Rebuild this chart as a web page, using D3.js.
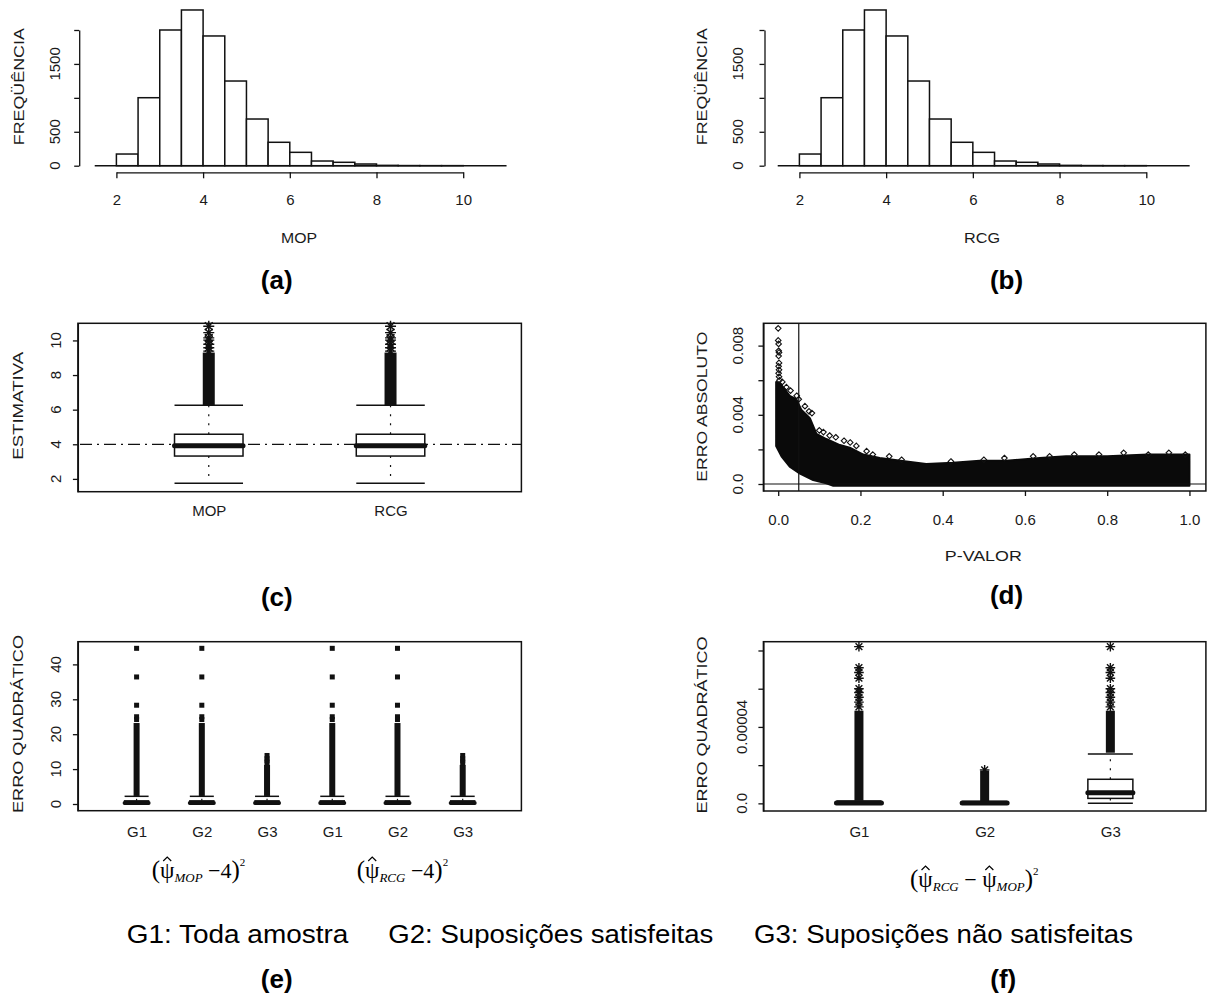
<!DOCTYPE html>
<html>
<head>
<meta charset="utf-8">
<script src="https://cdn.jsdelivr.net/npm/d3@7"></script>
<style>
body { margin: 0; background: #fff; }
svg { display: block; font-family: "Liberation Sans", Arial, sans-serif; }
.lab { font-size: 15px; fill: #1a1a1a; }
.cap { font-size: 26px; font-weight: bold; fill: #000; }
.leg { font-size: 25px; fill: #000; }
.frm { font-family: "Liberation Serif", "Times New Roman", serif; fill: #000; }
</style>
</head>
<body>
<script>
var w = 1207;
var h = 994;

// (a) and (b): histogram breaks and counts
var histBreaks = [1.5, 2, 2.5, 3, 3.5, 4, 4.5, 5, 5.5, 6, 6.5, 7, 7.5, 8, 8.5, 9, 9.5, 10, 10.5, 11];
var mopCounts = [0, 172, 1002, 2000, 2295, 1912, 1248, 688, 345, 197, 69, 50, 25, 5, 2, 1, 1, 0, 0];
var rcgCounts = [0, 172, 1002, 2000, 2295, 1912, 1248, 688, 345, 197, 69, 50, 25, 5, 2, 1, 1, 0, 0];
var histTicksX = [2, 4, 6, 8, 10];
var histTicksY = [0, 500, 1000, 1500, 2000];
var histLabelsY = [0, 500, 1500]; // R drops the labels that would collide

// (c): boxplots of the estimates
var estNames = ["MOP", "RCG"];
var estQ1 = [3.32, 3.32];
var estMedian = [3.92, 3.92];
var estQ3 = [4.58, 4.58];
var estLow = [1.75, 1.75];
var estHigh = [6.25, 6.25];
var estDense = [[6.25, 9.3], [6.25, 9.3]];
var estOutliers = [[9.38, 9.58, 9.78, 10.02, 10.15, 10.45, 10.82], [9.38, 9.58, 9.78, 10.02, 10.15, 10.45, 10.82]];
var estTicks = [2, 4, 6, 8, 10];
var trueValue = 4;

// (d): absolute error vs p-value, cloud outline and single points
var pUpper = [[-0.005, 0.0059], [0.005, 0.0058], [0.012, 0.0056], [0.028, 0.0051], [0.044, 0.0049],
              [0.056, 0.0043], [0.077, 0.0038], [0.093, 0.0029], [0.117, 0.0026], [0.15, 0.00225],
              [0.174, 0.0021], [0.207, 0.0017], [0.247, 0.0015], [0.312, 0.0013], [0.36, 0.00116],
              [0.425, 0.00123], [0.49, 0.00135], [0.555, 0.00135], [0.636, 0.0015], [0.7, 0.0016],
              [0.8, 0.0016], [0.9, 0.0017], [1.0, 0.0017]];
var pLower = [[-0.005, 0.0022], [0.008, 0.0016], [0.028, 0.0010], [0.053, 0.0006], [0.085, 0.00023],
              [0.117, 0.00004], [0.134, -0.0001], [1.0, -0.0001]];
var pPoints = [[0.0, 0.0090], [0.0, 0.0083], [0.001, 0.0081], [0.001, 0.0077], [0.002, 0.0076],
               [0.001, 0.0074], [0.002, 0.0070], [0.001, 0.0068], [0.002, 0.0066], [0.001, 0.0064],
               [0.002, 0.0062], [0.003, 0.0060], [0.01, 0.0059], [0.02, 0.0056], [0.03, 0.0054],
               [0.045, 0.0051], [0.05, 0.0049], [0.065, 0.0045], [0.075, 0.0042], [0.082, 0.0041],
               [0.1, 0.0031], [0.11, 0.0030], [0.125, 0.0028], [0.14, 0.0027], [0.16, 0.0025],
               [0.175, 0.0024], [0.19, 0.0022], [0.215, 0.0019], [0.23, 0.0017], [0.27, 0.0016],
               [0.3, 0.0014], [0.42, 0.0013], [0.5, 0.0014], [0.55, 0.0015], [0.62, 0.0016],
               [0.66, 0.0016], [0.72, 0.0017], [0.78, 0.0017], [0.84, 0.0018], [0.9, 0.0017],
               [0.95, 0.0018], [0.99, 0.0017]];
var pTicksX = [0, 0.2, 0.4, 0.6, 0.8, 1.0];
var pTicksY = [0, 0.002, 0.004, 0.006, 0.008];
var pLabelsY = [0, 0.004, 0.008];
var alpha = 0.05;

// (e): squared error of each estimator by group
var eqGroups = ["G1", "G2", "G3", "G1", "G2", "G3"];
var eqQ1 = [0.05, 0.05, 0.05, 0.05, 0.05, 0.05];
var eqMedian = [0.3, 0.3, 0.3, 0.3, 0.3, 0.3];
var eqQ3 = [0.9, 0.9, 0.9, 0.9, 0.9, 0.9];
var eqLow = [0, 0, 0, 0, 0, 0];
var eqHigh = [2.2, 2.2, 2.2, 2.2, 2.2, 2.2];
var eqDense = [[2.3, 23.2], [2.3, 23.2], [2.3, 11.2], [2.3, 23.2], [2.3, 23.2], [2.3, 11.2]];
var eqOutliers = [[24.2, 25, 28.3, 36.4, 44.6], [24.2, 25, 28.3, 36.4, 44.6], [11.8, 12.4, 13.0, 13.9],
                  [24.2, 25, 28.3, 36.4, 44.6], [24.2, 25, 28.3, 36.4, 44.6], [11.8, 12.4, 13.0, 13.9]];
var eqTicks = [0, 10, 20, 30, 40];

// (f): squared difference between the estimators by group
var dfGroups = ["G1", "G2", "G3"];
var dfQ1 = [0, 0, 2.6e-6];
var dfMedian = [2e-7, 2e-7, 5.5e-6];
var dfQ3 = [5e-7, 5e-7, 1.26e-5];
var dfLow = [0, 0, 0];
var dfHigh = [1.2e-6, 1.0e-6, 2.58e-5];
var dfDense = [[1.4e-6, 4.85e-5], [1.2e-6, 1.72e-5], [2.65e-5, 4.85e-5]];
var dfOutliers = [[5.05e-5, 5.3e-5, 5.55e-5, 5.8e-5, 6.0e-5, 6.55e-5, 6.85e-5, 7.1e-5, 8.2e-5],
                  [1.75e-5],
                  [5.05e-5, 5.3e-5, 5.55e-5, 5.8e-5, 6.0e-5, 6.55e-5, 6.85e-5, 7.1e-5, 8.2e-5]];
var dfTicks = [0, 2e-5, 4e-5, 6e-5, 8e-5];
var dfLabels = [0, 4e-5];

var ink = "#111";

var svg = d3.select("body")
            .append("svg")
            .attr("width", w)
            .attr("height", h);

// ---------- helpers ----------

// R's pch 8: a plus and a cross on top of each other
function asterisk(r) {
    var a = r * 0.7071;
    return "M" + (-r) + ",0H" + r + "M0," + (-r) + "V" + r +
           "M" + (-a) + "," + (-a) + "L" + a + "," + a +
           "M" + (-a) + "," + a + "L" + a + "," + (-a);
}

function styleAxis(g) {
    g.attr("font-family", null).attr("font-size", null);
    g.selectAll("path, line").attr("stroke", ink).attr("stroke-width", 1.3);
    g.selectAll("text").attr("class", "lab").attr("fill", null);
}

// left axis with ticks only, labels rotated like R does
function leftAxis(x0, y, ticks, labelX, labels, fmt) {
    svg.append("g")
       .attr("transform", "translate(" + x0 + ",0)")
       .call(d3.axisLeft(y).tickValues(ticks).tickSize(5).tickSizeOuter(0).tickFormat(""))
       .call(styleAxis);
    svg.selectAll(null)
       .data(labels)
       .enter()
       .append("text")
       .attr("class", "lab")
       .attr("transform", function (d) {
           return "translate(" + labelX + "," + y(d) + ") rotate(-90)";
       })
       .attr("text-anchor", "middle")
       .attr("dy", "0.35em")
       .text(fmt);
}

function yTitle(x, y, len, txt) {
    svg.append("text")
       .attr("class", "lab")
       .attr("transform", "translate(" + x + "," + y + ") rotate(-90)")
       .attr("text-anchor", "middle")
       .attr("dy", "0.35em")
       .attr("textLength", len)
       .attr("lengthAdjust", "spacingAndGlyphs")
       .text(txt);
}

function xTitle(x, y, len, txt) {
    svg.append("text")
       .attr("class", "lab")
       .attr("x", x)
       .attr("y", y)
       .attr("text-anchor", "middle")
       .attr("dy", "0.35em")
       .attr("textLength", len)
       .attr("lengthAdjust", "spacingAndGlyphs")
       .text(txt);
}

function caption(x, y, txt) {
    svg.append("text")
       .attr("class", "cap")
       .attr("x", x)
       .attr("y", y)
       .attr("text-anchor", "middle")
       .attr("dy", "0.35em")
       .text(txt);
}

function frame(x0, x1, y0, y1) {
    svg.append("rect")
       .attr("x", x0).attr("y", y0)
       .attr("width", x1 - x0).attr("height", y1 - y0)
       .attr("fill", "none")
       .attr("stroke", ink)
       .attr("stroke-width", 1.5);
}

function histogram(x, y, counts) {
    var g = svg.append("g");
    // zero line across all breaks (empty bins draw flat)
    g.append("line")
     .attr("x1", x(histBreaks[0]))
     .attr("x2", x(histBreaks[histBreaks.length - 1]))
     .attr("y1", y(0)).attr("y2", y(0))
     .attr("stroke", ink).attr("stroke-width", 1.5);
    counts.forEach(function (c, i) {
        if (c <= 0) return;
        g.append("rect")
         .attr("x", x(histBreaks[i]))
         .attr("y", y(c))
         .attr("width", x(histBreaks[i + 1]) - x(histBreaks[i]))
         .attr("height", y(0) - y(c))
         .attr("fill", "#fff")
         .attr("stroke", ink)
         .attr("stroke-width", 1.5);
    });
}

// R-style boxplot pieces; xpos(i) gives the centre of group i
function boxes(n, xpos, y, q1, med, q3, lo, hi, boxW, medW) {
    var g = svg.append("g");
    var idx = d3.range(n);
    // dashed whiskers
    g.selectAll(".wu").data(idx).enter().append("line")
     .attr("x1", xpos).attr("x2", xpos)
     .attr("y1", function (i) { return y(q3[i]); })
     .attr("y2", function (i) { return y(hi[i]); })
     .attr("stroke", ink).attr("stroke-width", 1.2).attr("stroke-dasharray", "2,7");
    g.selectAll(".wl").data(idx).enter().append("line")
     .attr("x1", xpos).attr("x2", xpos)
     .attr("y1", function (i) { return y(q1[i]); })
     .attr("y2", function (i) { return y(lo[i]); })
     .attr("stroke", ink).attr("stroke-width", 1.2).attr("stroke-dasharray", "2,7");
    // staples
    [hi, lo].forEach(function (arr) {
        g.selectAll(null).data(idx).enter().append("line")
         .attr("x1", function (i) { return xpos(i) - boxW / 2; })
         .attr("x2", function (i) { return xpos(i) + boxW / 2; })
         .attr("y1", function (i) { return y(arr[i]); })
         .attr("y2", function (i) { return y(arr[i]); })
         .attr("stroke", ink).attr("stroke-width", 1.5);
    });
    // box
    g.selectAll(".bx").data(idx).enter().append("rect")
     .attr("x", function (i) { return xpos(i) - boxW / 2; })
     .attr("y", function (i) { return y(q3[i]); })
     .attr("width", boxW)
     .attr("height", function (i) { return Math.max(0.5, y(q1[i]) - y(q3[i])); })
     .attr("fill", "#fff").attr("stroke", ink).attr("stroke-width", 1.5);
    // median
    g.selectAll(".md").data(idx).enter().append("line")
     .attr("x1", function (i) { return xpos(i) - boxW / 2; })
     .attr("x2", function (i) { return xpos(i) + boxW / 2; })
     .attr("y1", function (i) { return y(med[i]); })
     .attr("y2", function (i) { return y(med[i]); })
     .attr("stroke", ink).attr("stroke-width", medW).attr("stroke-linecap", "round");
    return g;
}

// dense runs of outliers drawn as a solid column
function denseColumns(n, xpos, y, dense, colW) {
    svg.append("g").selectAll("rect")
       .data(d3.range(n))
       .enter()
       .append("rect")
       .attr("x", function (i) { return xpos(i) - colW / 2; })
       .attr("y", function (i) { return y(dense[i][1]); })
       .attr("width", colW)
       .attr("height", function (i) { return y(dense[i][0]) - y(dense[i][1]); })
       .attr("fill", ink);
}

function starPoints(n, xpos, y, outl, r) {
    var pts = [];
    d3.range(n).forEach(function (i) {
        outl[i].forEach(function (v) { pts.push([i, v]); });
    });
    svg.append("g").selectAll("path")
       .data(pts)
       .enter()
       .append("path")
       .attr("transform", function (d) { return "translate(" + xpos(d[0]) + "," + y(d[1]) + ")"; })
       .attr("d", asterisk(r))
       .attr("fill", "none")
       .attr("stroke", ink)
       .attr("stroke-width", 1.4);
}

// ---------- (a) and (b) histograms ----------

var yHist = d3.scaleLinear().domain([0, 2000]).range([165.7, 30]);
var xA = d3.scaleLinear().domain([2, 10]).range([116.4, 463.2]);
var xB = d3.scaleLinear().domain([2, 10]).range([799.4, 1146.3]);

histogram(xA, yHist, mopCounts);
histogram(xB, yHist, rcgCounts);

[[xA, 79.2, 55, 19, 299, "MOP"], [xB, 764.5, 737.4, 701.4, 982, "RCG"]].forEach(function (p) {
    var xs = p[0];
    svg.append("g")
       .attr("transform", "translate(0,172.3)")
       .call(d3.axisBottom(xs).tickValues(histTicksX).tickSize(6).tickSizeOuter(0).tickFormat(d3.format("d")))
       .call(styleAxis)
       .selectAll("text")
       .attr("y", 27.7)
       .attr("dy", "0.35em");
    leftAxis(p[1], yHist, histTicksY, p[2], histLabelsY, d3.format("d"));
    yTitle(p[3], 86.7, 117, "FREQÜÊNCIA");
    xTitle(p[4], 237.3, 36, p[5]);
});
caption(276.7, 280, "(a)");
caption(1006.5, 280, "(b)");

// ---------- (c) boxplots of the estimates ----------

var xC = d3.scalePoint().domain(estNames).range([77.9, 521.4]).padding(0.72);
var yC = d3.scaleLinear().domain([1.26, 10.99]).range([491.7, 323.3]);
var xCi = function (i) { return xC(estNames[i]); };

// reference line at the true value
svg.append("line")
   .attr("x1", 80).attr("x2", 521.4)
   .attr("y1", yC(trueValue)).attr("y2", yC(trueValue))
   .attr("stroke", ink).attr("stroke-width", 1.3)
   .attr("stroke-dasharray", "12,5,2,5");

boxes(2, xCi, yC, estQ1, estMedian, estQ3, estLow, estHigh, 68.5, 5);
denseColumns(2, xCi, yC, estDense, 12);
starPoints(2, xCi, yC, estOutliers, 5.5);

frame(77.9, 521.4, 323.3, 491.7);
leftAxis(77.9, yC, estTicks, 55.4, estTicks, d3.format("d"));
svg.append("g")
   .attr("transform", "translate(0,491.7)")
   .call(d3.axisBottom(xC).tickSize(0))
   .call(styleAxis)
   .call(function (g) { g.select(".domain").remove(); })
   .selectAll("text")
   .attr("y", 19)
   .attr("dy", "0.35em");
yTitle(17.9, 405.8, 108, "ESTIMATIVA");
caption(276.8, 597, "(c)");

// ---------- (d) absolute error vs p-value ----------

var xD = d3.scaleLinear().domain([-0.036, 1.04]).range([763.4, 1205.9]);
var yD = d3.scaleLinear().domain([-0.000405, 0.00929]).range([491, 323.3]);

var ring = pUpper.concat(pLower.slice().reverse());
svg.append("path")
   .attr("d", d3.line().x(function (d) { return xD(d[0]); }).y(function (d) { return yD(d[1]); })(ring) + "Z")
   .attr("fill", "#0a0a0a")
   .attr("stroke", "#0a0a0a")
   .attr("stroke-width", 2)
   .attr("stroke-linejoin", "round");

svg.append("g").selectAll("path")
   .data(pPoints)
   .enter()
   .append("path")
   .attr("transform", function (d) { return "translate(" + xD(d[0]) + "," + yD(d[1]) + ")"; })
   .attr("d", "M0,-2.8L2.8,0L0,2.8L-2.8,0Z")
   .attr("fill", "none")
   .attr("stroke", ink)
   .attr("stroke-width", 1.1);

// h = 0 and v = 0.05 reference lines
svg.append("line")
   .attr("x1", 763.4).attr("x2", 1205.9)
   .attr("y1", yD(0)).attr("y2", yD(0))
   .attr("stroke", ink).attr("stroke-width", 1.2);
svg.append("line")
   .attr("x1", xD(alpha)).attr("x2", xD(alpha))
   .attr("y1", 323.3).attr("y2", 491)
   .attr("stroke", ink).attr("stroke-width", 1.2);

frame(763.4, 1205.9, 323.3, 491);
svg.append("g")
   .attr("transform", "translate(0,491)")
   .call(d3.axisBottom(xD).tickValues(pTicksX).tickSize(5).tickSizeOuter(0).tickFormat(d3.format(".1f")))
   .call(styleAxis)
   .call(function (g) { g.select(".domain").remove(); })
   .selectAll("text")
   .attr("y", 29)
   .attr("dy", "0.35em");
leftAxis(763.4, yD, pTicksY, 737.6, pLabelsY, function (d) { return d === 0 ? "0.0" : d3.format(".3f")(d); });
yTitle(701.4, 406.7, 150, "ERRO ABSOLUTO");
xTitle(983.3, 556, 77, "P-VALOR");
caption(1006.5, 595, "(d)");

// ---------- (e) squared errors ----------

var xE = d3.scalePoint().domain(d3.range(6)).range([77.9, 521.4]).padding(0.9);
var yE = d3.scaleLinear().domain([-1.92, 46.5]).range([810.7, 641.7]);

boxes(6, xE, yE, eqQ1, eqMedian, eqQ3, eqLow, eqHigh, 24, 4);
denseColumns(6, xE, yE, eqDense, 6);
(function () {
    var pts = [];
    eqOutliers.forEach(function (arr, i) {
        arr.forEach(function (v) { pts.push([i, v]); });
    });
    svg.append("g").selectAll("rect")
       .data(pts)
       .enter()
       .append("rect")
       .attr("x", function (d) { return xE(d[0]) - 2.5; })
       .attr("y", function (d) { return yE(d[1]) - 2.5; })
       .attr("width", 5)
       .attr("height", 5)
       .attr("fill", ink);
})();

frame(77.9, 521.4, 641.7, 810.7);
leftAxis(77.9, yE, eqTicks, 55.4, eqTicks, d3.format("d"));
svg.append("g")
   .attr("transform", "translate(0,810.7)")
   .call(d3.axisBottom(xE).tickSize(0).tickFormat(function (i) { return eqGroups[i]; }))
   .call(styleAxis)
   .call(function (g) { g.select(".domain").remove(); })
   .selectAll("text")
   .attr("y", 21)
   .attr("dy", "0.35em");
yTitle(17.9, 724, 178, "ERRO QUADRÁTICO");

// ---------- (f) squared difference ----------

var xF = d3.scalePoint().domain(d3.range(3)).range([763.4, 1205.9]).padding(0.76);
var yF = d3.scaleLinear().domain([-4.0e-6, 8.46e-5]).range([811, 641.7]);

boxes(3, xF, yF, dfQ1, dfMedian, dfQ3, dfLow, dfHigh, 45, 5);
denseColumns(3, xF, yF, dfDense, 9);
starPoints(3, xF, yF, dfOutliers, 4.8);

frame(763.4, 1205.9, 641.7, 811);
leftAxis(763.4, yF, dfTicks, 742, dfLabels, function (d) { return d === 0 ? "0.0" : "0.00004"; });
svg.append("g")
   .attr("transform", "translate(0,811)")
   .call(d3.axisBottom(xF).tickSize(0).tickFormat(function (i) { return dfGroups[i]; }))
   .call(styleAxis)
   .call(function (g) { g.select(".domain").remove(); })
   .selectAll("text")
   .attr("y", 21)
   .attr("dy", "0.35em");
yTitle(701.4, 725, 177, "ERRO QUADRÁTICO");

// ---------- formulas under the boxplots ----------

// builds the formula as one text; every psi then gets a small hat stroke above it
function formula(x, y, parts) {
    var t = svg.append("text")
               .attr("class", "frm")
               .attr("x", x)
               .attr("y", y);
    parts.forEach(function (p) {
        var s = t.append("tspan")
                 .attr("font-size", p.size)
                 .text(p.t);
        if (p.dy) s.attr("dy", p.dy);
        if (p.it) s.attr("font-style", "italic");
    });
    var node = t.node();
    var str = node.textContent;
    for (var i = 0; i < str.length; i++) {
        if (str[i] !== "\u03C8") continue;
        var box = node.getExtentOfChar(i);
        var cx = box.x + box.width / 2;
        var base = y - 17;
        svg.append("path")
           .attr("d", "M" + (cx - 4) + "," + base + "L" + cx + "," + (base - 4) + "L" + (cx + 4) + "," + base)
           .attr("fill", "none")
           .attr("stroke", "#000")
           .attr("stroke-width", 1.2);
    }
}

formula(151.7, 878, [
    {t: "(", size: 25}, {t: "\u03C8", size: 23},
    {t: "MOP", size: 13, it: true, dy: 4},
    {t: " \u22124", size: 22, dy: -4}, {t: ")", size: 25},
    {t: "2", size: 11, dy: -12}
]);
formula(356.7, 878, [
    {t: "(", size: 25}, {t: "\u03C8", size: 23},
    {t: "RCG", size: 13, it: true, dy: 4},
    {t: " \u22124", size: 22, dy: -4}, {t: ")", size: 25},
    {t: "2", size: 11, dy: -12}
]);
formula(910, 887, [
    {t: "(", size: 25}, {t: "\u03C8", size: 23},
    {t: "RCG", size: 13, it: true, dy: 4},
    {t: " \u2212 ", size: 22, dy: -4}, {t: "\u03C8", size: 23},
    {t: "MOP", size: 13, it: true, dy: 4},
    {t: ")", size: 25, dy: -4},
    {t: "2", size: 11, dy: -12}
]);

// ---------- legend line and last captions ----------

[[126.7, 221.6, "G1: Toda amostra"],
 [388.3, 325, "G2: Suposições satisfeitas"],
 [754, 379, "G3: Suposições não satisfeitas"]].forEach(function (d) {
    svg.append("text")
       .attr("class", "leg")
       .attr("x", d[0])
       .attr("y", 942.5)
       .attr("textLength", d[1])
       .attr("lengthAdjust", "spacingAndGlyphs")
       .text(d[2]);
});

caption(276.7, 979, "(e)");
caption(1003.3, 979, "(f)");
</script>
</body>
</html>
